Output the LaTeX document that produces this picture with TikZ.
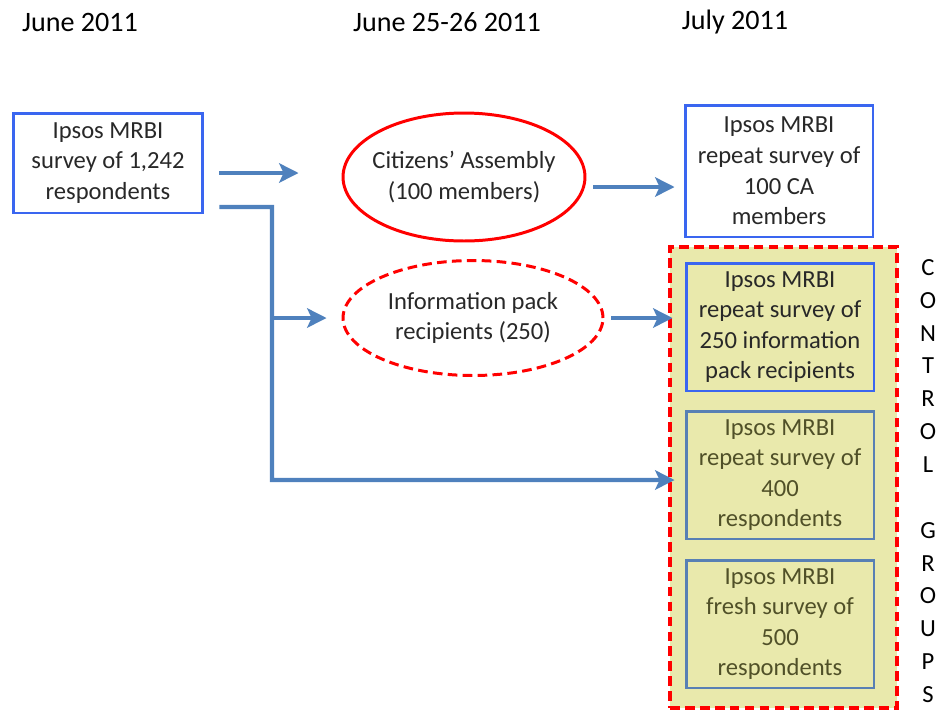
\documentclass[tikz,border=0pt]{standalone}
\usepackage{fontspec}
\setmainfont{Carlito}
\usetikzlibrary{arrows.meta,shapes.geometric}
\definecolor{flowblue}{RGB}{79,129,189}
\definecolor{boxblue}{RGB}{58,102,240}
\definecolor{greyblue}{RGB}{88,128,180}
\definecolor{ctrlfill}{RGB}{233,233,172}
\definecolor{inktext}{RGB}{40,40,40}
\definecolor{olivetext}{RGB}{80,80,40}
\begin{document}
\begin{tikzpicture}[x=0.02cm, y=-0.02cm,
	every node/.style = {text=inktext, font=\fontsize{14}{17.4}\selectfont, align=center},
	datebox/.style = {font=\fontsize{16}{19}\selectfont, text=black},
	survey/.style = {draw=boxblue, line width=1.7pt, fill=white, minimum width=3.8cm, minimum height=2cm},
	ctrl/.style = {draw=greyblue, line width=1.7pt, minimum width=3.76cm, minimum height=2.56cm, text=olivetext},
	group/.style = {ellipse, draw=red, line width=1.7pt, inner sep=0pt, inner xsep=-0.3cm},
	flow/.style = {draw=flowblue, line width=2.3pt, -{Stealth[length=11pt, width=11pt, inset=2.5pt]}}]
	
	\useasboundingbox (0,0) rectangle (942,711);
	
	% dates
	\node[datebox] (june) at (80,22) {June 2011};
	\node[datebox] (june2526) at (447,22) {June 25-26 2011};
	\node[datebox] (july) at (735,22) {July 2011};
	
	% boxes and groups
	\node[survey] (first) at (108,163) {Ipsos MRBI\\survey of 1,242\\respondents};
	\node[group, minimum width=4.84cm, minimum height=2.56cm] (assembly) at (464,177) {Citizens' Assembly\\(100 members)};
	\node[group, dashed, dash pattern=on 5.5pt off 3pt, minimum width=5.2cm, minimum height=2.3cm] (info) at (473,318) {Information pack\\recipients (250)};
	\node[survey, minimum width=3.76cm, minimum height=2.64cm] (repeatca) at (779,171) {Ipsos MRBI\\repeat survey of\\100 CA\\members};
	
	\node[draw=red, fill=ctrlfill, line width=2pt, dash pattern=on 5.5pt off 3pt, minimum width=4.54cm, minimum height=9.22cm] (control) at (783.5,477.5) {};
	\node[ctrl, draw=boxblue, text=inktext] (repeatinfo) at (780,327) {Ipsos MRBI\\repeat survey of\\250 information\\pack recipients};
	\node[ctrl] (repeatfour) at (780,475) {Ipsos MRBI\\repeat survey of\\400\\respondents};
	\node[ctrl] (fresh) at (780,624) {Ipsos MRBI\\fresh survey of\\500\\respondents};
	
	\node[font=\fontsize{14}{18.7}\selectfont, text=black] (groups) at (928,481) {C\\O\\N\\T\\R\\O\\L\\\mbox{}\\G\\R\\O\\U\\P\\S};
	
	% arrows
	\coordinate (fork) at (272,207);
	\draw[flow, shorten <=0.3cm, shorten >=0.86cm] ([yshift=-0.2cm]first.east) -- ([yshift=-0.2cm]first.east -| assembly.west);
	\draw[flow, shorten <=0.14cm, shorten >=0.18cm] ([yshift=-0.2cm]assembly.east) -- ([yshift=-0.2cm]assembly.east -| repeatca.west);
	\draw[flow, shorten <=0.3cm, shorten >=0.2cm] ([yshift=-0.88cm]first.east) -- (fork) |- ([yshift=-0.1cm]repeatfour.west);
	\draw[flow, shorten >=0.3cm] (fork |- info.west) -- (info.west);
	\draw[flow, shorten <=0.14cm, shorten >=0.24cm] (info.east) -- (info.east -| repeatinfo.west);
\end{tikzpicture}
\end{document}
